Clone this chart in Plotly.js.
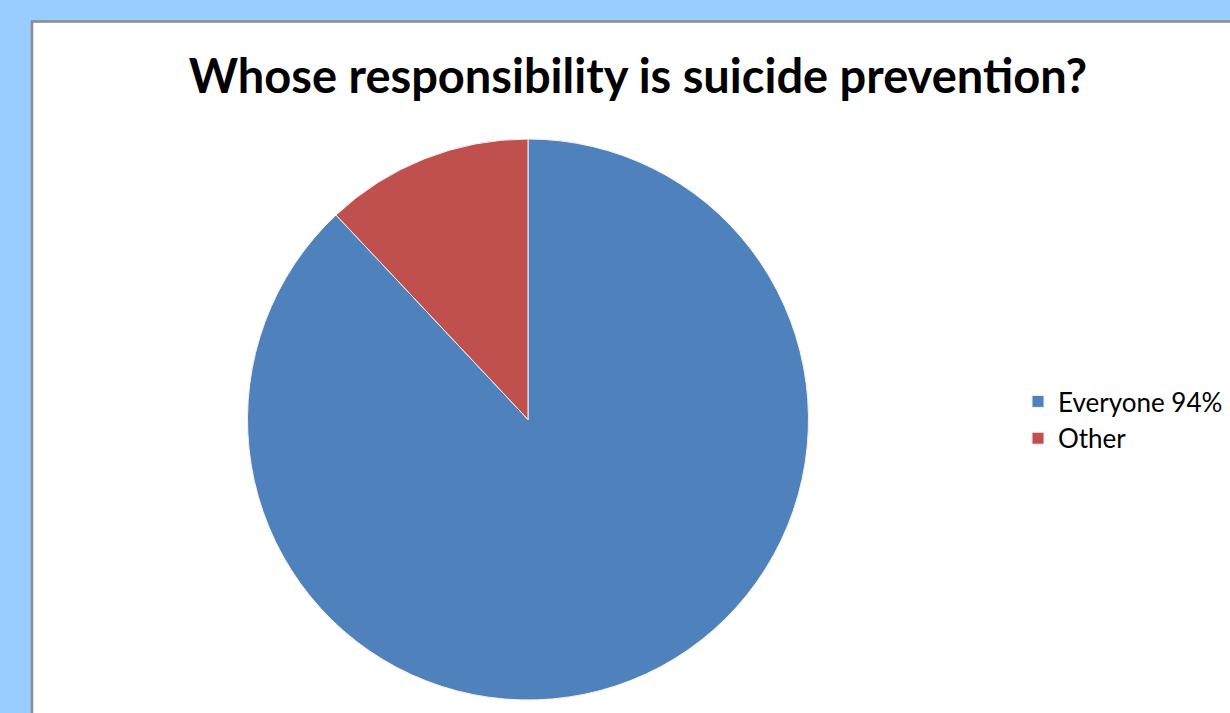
<!DOCTYPE html>
<html>
<head>
<meta charset="utf-8">
<script src="https://cdn.plot.ly/plotly-3.0.1.min.js"></script>
<style>
  html, body { margin: 0; padding: 0; background: #99CCFF; }
  #chart { width: 1230px; height: 713px; }
</style>
</head>
<body>
<div id="chart"></div>
<script>
const labels = ["Everyone 94%", "Other"];
const values = [88, 12];
const colors = ["#4F81BD", "#C0504D"];
const titleText = "Whose responsibility is suicide prevention?";

const W = 1230, H = 713;
const trace = {
  type: "pie",
  labels: labels,
  values: values,
  sort: false,
  direction: "clockwise",
  rotation: 0,
  textinfo: "none",
  hoverinfo: "label+percent",
  marker: { colors: colors, line: { color: "#F2F2F2", width: 1 } },
  domain: { x: [247 / W, 809 / W], y: [1 - 700 / H, 1 - 139 / H] }
};

const layout = {
  width: W,
  height: H,
  margin: { l: 0, r: 0, t: 0, b: 0 },
  paper_bgcolor: "#99CCFF",
  title: {
    text: "<b>" + titleText + "</b>",
    font: { family: "Lato, 'Liberation Sans', sans-serif", size: 47, color: "#000000" },
    x: 638 / W, xanchor: "center",
    y: 1 - 77 / H, yanchor: "middle"
  },
  showlegend: true,
  legend: {
    x: 1018 / W, xanchor: "left",
    y: 1 - 420 / H, yanchor: "middle",
    font: { family: "Lato, 'Liberation Sans', sans-serif", size: 26, color: "#000000" },
    bgcolor: "rgba(0,0,0,0)"
  },
  shapes: [{
    type: "rect", xref: "paper", yref: "paper", layer: "below",
    x0: 32 / W, x1: 1.02, y0: -0.02, y1: 1 - 21.5 / H,
    fillcolor: "#FFFFFF",
    line: { color: "#8C8C8C", width: 2.5 }
  }]
};

Plotly.newPlot("chart", [trace], layout, { displayModeBar: false, staticPlot: true });
</script>
</body>
</html>
